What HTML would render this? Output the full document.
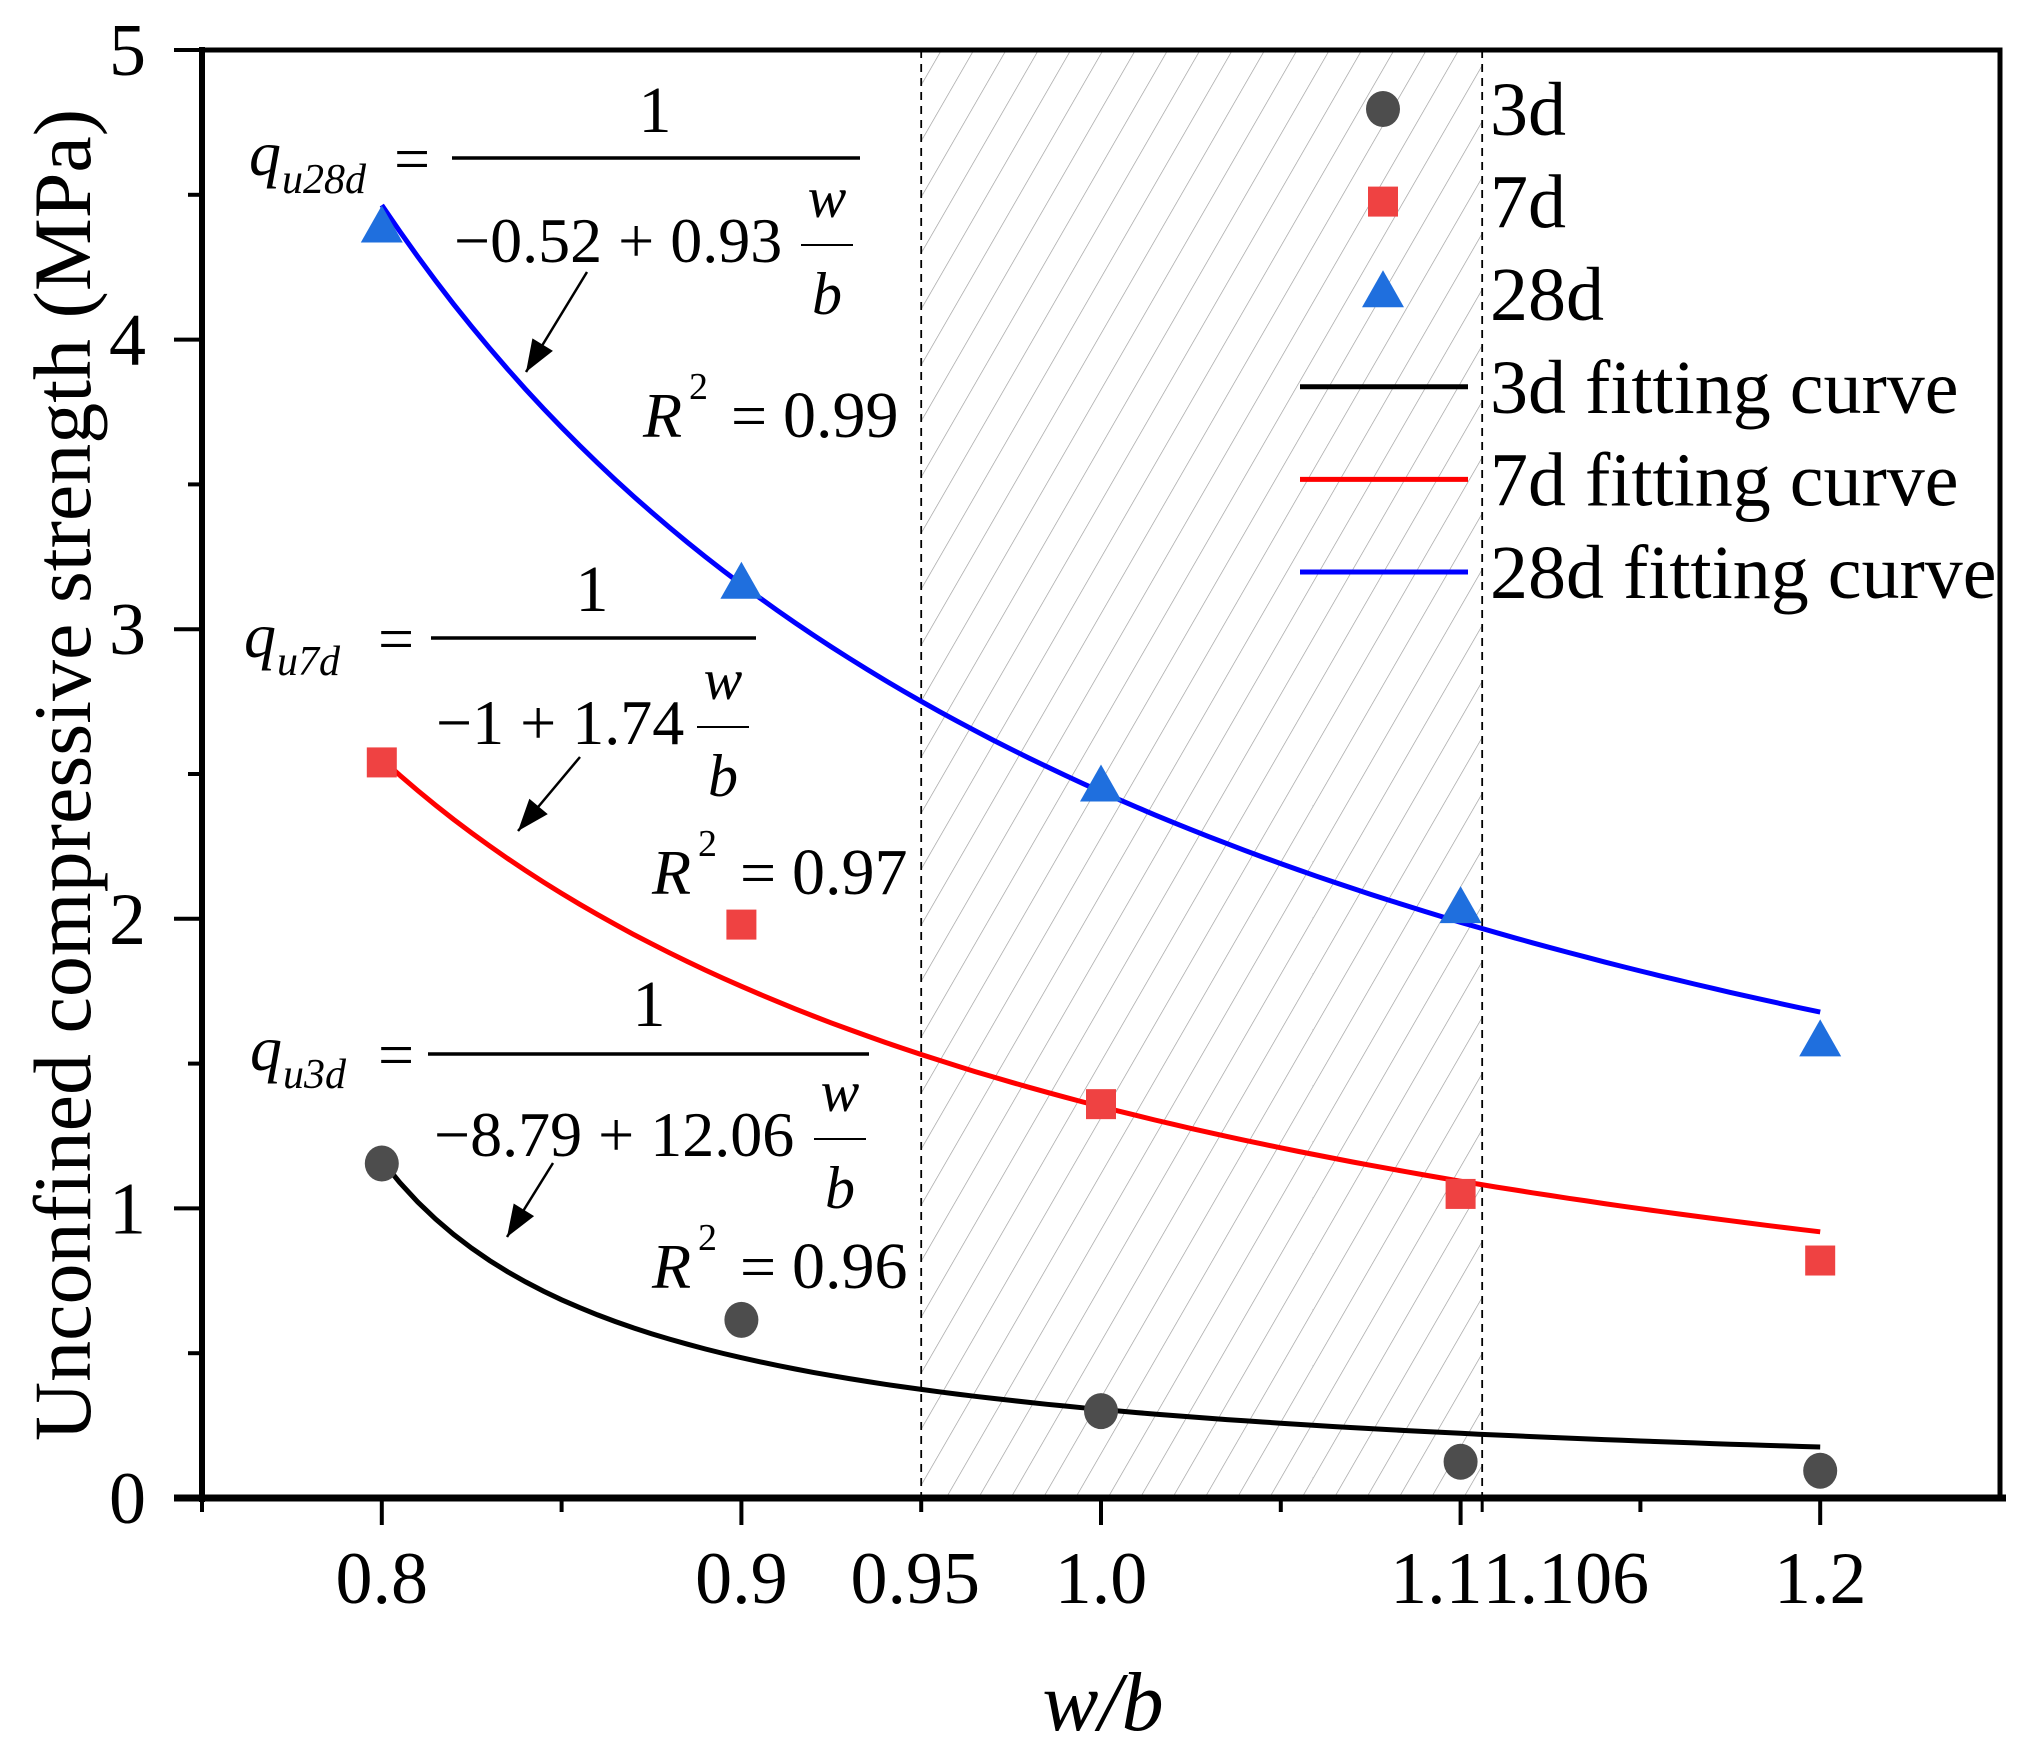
<!DOCTYPE html>
<html><head><meta charset="utf-8"><style>
html,body{margin:0;padding:0;background:#fff}
svg{display:block}
text{font-family:"Liberation Serif",serif;fill:#000}
</style></head><body>
<svg id="chart" width="2025" height="1760" viewBox="0 0 2025 1760" xmlns="http://www.w3.org/2000/svg">
<defs>
<pattern id="hatch" patternUnits="userSpaceOnUse" width="28" height="28" patternTransform="rotate(30)">
<line x1="0" y1="0" x2="0" y2="28" stroke="#9a9a9a" stroke-width="1.3"/>
</pattern>
</defs>
<g id="plot"></g>
</svg>
<script>
const xTicksMajor = [0.8, 0.9, 1.0, 1.1, 1.2];
const xTicksMinor = [0.75, 0.85, 0.95, 1.05, 1.15];
const xTickLabels = ["0.8","0.9","0.95","1.0","1.1","1.106","1.2"];
const xTickLabelVals = [0.8, 0.9, 0.95, 1.0, 1.1, 1.106, 1.2];
const yTicksMajor = [0,1,2,3,4,5];
const yTicksMinor = [0.5,1.5,2.5,3.5,4.5];
const wb = [0.8, 0.9, 1.0, 1.1, 1.2];
const s3d = [1.155, 0.615, 0.30, 0.125, 0.094];
const s7d = [2.54, 1.98, 1.36, 1.05, 0.82];
const s28d = [4.38, 3.15, 2.45, 2.03, 1.57];
const fit3d = [-8.79, 12.06];
const fit7d = [-1, 1.74];
const fit28d = [-0.52, 0.93];
const band = [0.95, 1.106];

const NS="http://www.w3.org/2000/svg";
const L=202,R=2000,T=50,B=1498;
const X0=0.75,X1=1.25,Y0=0,Y1=5;
const sx=v=>L+(v-X0)/(X1-X0)*(R-L);
const sy=v=>B-(v-Y0)/(Y1-Y0)*(B-T);
const g=document.getElementById('plot');
function el(tag,attrs,parent){const e=document.createElementNS(NS,tag);for(const k in attrs)e.setAttribute(k,attrs[k]);(parent||g).appendChild(e);return e;}
function txt(x,y,s,size,extra,parent){const e=el('text',Object.assign({x:x,y:y,'font-size':size},extra||{}),parent);e.textContent=s;return e;}

// shaded band
const bandRect=el('rect',{x:sx(band[0]),y:T,width:sx(band[1])-sx(band[0]),height:B-T,fill:'url(#hatch)'});


band.forEach((v,i)=>{const d=el('line',{x1:sx(v),x2:sx(v),y1:T,y2:B,stroke:'#000','stroke-width':1.8,'stroke-dasharray':'8,6'});

});

// axes frame
const frame=el('rect',{x:L,y:T,width:R-L,height:B-T,fill:'none',stroke:'#000','stroke-width':5});


const xaxis=el('line',{x1:L-28,x2:R+6,y1:B,y2:B,stroke:'#000','stroke-width':7});


const yaxis=el('line',{x1:L,x2:L,y1:T-3,y2:B+4,stroke:'#000','stroke-width':6});



// x ticks
xTicksMajor.forEach(v=>{const t=el('line',{x1:sx(v),x2:sx(v),y1:B,y2:B+27,stroke:'#000','stroke-width':4});

});
xTicksMinor.forEach(v=>{const t=el('line',{x1:sx(v),x2:sx(v),y1:B,y2:B+14,stroke:'#000','stroke-width':4});

});
el('line',{x1:sx(1.106),x2:sx(1.106),y1:B,y2:B+14,stroke:'#000','stroke-width':3});
xTickLabels.forEach((s,i)=>{let x=sx(xTickLabelVals[i]);let anchor='middle';
if(s==='0.95'){x-=6;}
if(s==='1.1'){anchor='end';x=sx(1.1)+22;}
if(s==='1.106'){anchor='start';x=sx(1.1)+22;}
const t=txt(x,1603,s,74,{'text-anchor':anchor});

});
// y ticks
yTicksMajor.forEach(v=>{const t=el('line',{x1:L-28,x2:L,y1:sy(v),y2:sy(v),stroke:'#000','stroke-width':4});


const lb=txt(146,sy(v)+25,String(v),74,{'text-anchor':'end'});

});
yTicksMinor.forEach(v=>{const t=el('line',{x1:L-14,x2:L,y1:sy(v),y2:sy(v),stroke:'#000','stroke-width':4});

});

// axis titles
const yt=el('text',{transform:'translate(90,775) rotate(-90)','font-size':82,'text-anchor':'middle'});
yt.textContent='Unconfined compressive strength (MPa)';


const xt=txt(1103,1730,'w/b',84,{'text-anchor':'middle','font-style':'italic'});



// fitting curves
function curve(p,color,name){let d='';for(let i=0;i<=80;i++){const x=0.8+0.4*i/80;const y=1/(p[0]+p[1]*x);d+=(i?'L':'M')+sx(x).toFixed(1)+','+sy(y).toFixed(1);}
const c=el('path',{d:d,fill:'none',stroke:color,'stroke-width':5});

}
curve(fit3d,'#000','fit-curve-3d');
curve(fit7d,'#ff0000','fit-curve-7d');
curve(fit28d,'#0000ff','fit-curve-28d');

// markers
function circ(x,y){return el('ellipse',{cx:x,cy:y,rx:17,ry:18,fill:'#4d4d4d'});}
function sq(x,y){return el('rect',{x:x-15,y:y-15,width:30,height:30,fill:'#ef4242'});}
function tri(x,y){return el('polygon',{points:`${x},${y-24} ${x+21},${y+13} ${x-21},${y+13}`,fill:'#1f6fde'});}
wb.forEach((x,i)=>{const m=circ(sx(x),sy(s3d[i]));

});
wb.forEach((x,i)=>{const m=sq(sx(x),sy(s7d[i]));

});
wb.forEach((x,i)=>{const m=tri(sx(x),sy(s28d[i]));

});

// legend
const rows=[['3d','c'],['7d','s'],['28d','t'],['3d fitting curve','#000'],['7d fitting curve','#ff0000'],['28d fitting curve','#0000ff']];
rows.forEach((r,i)=>{const y=109+i*92.6;let m;
if(r[1]==='c')m=circ(1383,y);else if(r[1]==='s')m=sq(1383,y);else if(r[1]==='t')m=tri(1383,y);
else m=el('line',{x1:1300,x2:1468,y1:y,y2:y,stroke:r[1],'stroke-width':5});


const t=txt(1490,y+26,r[0],76);

});

// equations
function eq(o){
 const grp=el('g',{});
 
 
 txt(o.qx,o.qy,'q',64,{'font-style':'italic'},grp);
 txt(o.qx+33,o.qy+18,o.sub,42,{'font-style':'italic'},grp);
 txt(o.ex,o.fy+22,'=',64,{},grp);
 el('line',{x1:o.b0,x2:o.b1,y1:o.fy,y2:o.fy,stroke:'#000','stroke-width':3.5},grp);
 txt(o.onex,o.oney,'1',66,{'text-anchor':'middle'},grp);
 txt(o.dx,o.dy,o.den,64,{},grp);
 txt(o.wx,o.dy-45,'w',58,{'font-style':'italic','text-anchor':'middle'},grp);
 el('line',{x1:o.wx-26,x2:o.wx+26,y1:o.dy-17,y2:o.dy-17,stroke:'#000','stroke-width':2},grp);
 txt(o.wx,o.dy+52,'b',60,{'font-style':'italic','text-anchor':'middle'},grp);
 el('line',{x1:o.a[0],y1:o.a[1],x2:o.a[2],y2:o.a[3],stroke:'#000','stroke-width':2.5},grp);
 const ang=Math.atan2(o.a[3]-o.a[1],o.a[2]-o.a[0]);const hx=o.a[2],hy=o.a[3],len=32,wd=12;
 const px=hx-len*Math.cos(ang),py=hy-len*Math.sin(ang);
 el('polygon',{points:`${hx},${hy} ${px+wd*Math.sin(ang)},${py-wd*Math.cos(ang)} ${px-wd*Math.sin(ang)},${py+wd*Math.cos(ang)}`,fill:'#000'},grp);
 txt(o.rx,o.ry,'R',64,{'font-style':'italic'},grp);
 txt(o.rx+46,o.ry-38,'2',38,{},grp);
 txt(o.rx+88,o.ry,'=',64,{},grp);
 txt(o.rx+140,o.ry,o.r2,66,{},grp);
}
eq({name:'equation-28d',qx:249,qy:175,sub:'u28d',ex:394,fy:158,b0:452,b1:860,onex:655,oney:132,dx:454,dy:262,den:'\u22120.52 + 0.93',wx:827,a:[587,272,526,372],rx:643,ry:437,r2:'0.99'});
eq({name:'equation-7d',qx:244,qy:657,sub:'u7d',ex:378,fy:638,b0:431,b1:756,onex:592,oney:611,dx:436,dy:744,den:'\u22121 + 1.74',wx:723,a:[580,757,518,831],rx:652,ry:894,r2:'0.97'});
eq({name:'equation-3d',qx:250,qy:1070,sub:'u3d',ex:378,fy:1054,b0:428,b1:869,onex:649,oney:1026,dx:434,dy:1156,den:'\u22128.79 + 12.06',wx:840,a:[553,1163,507,1237],rx:652,ry:1288,r2:'0.96'});
</script>
</body></html>
